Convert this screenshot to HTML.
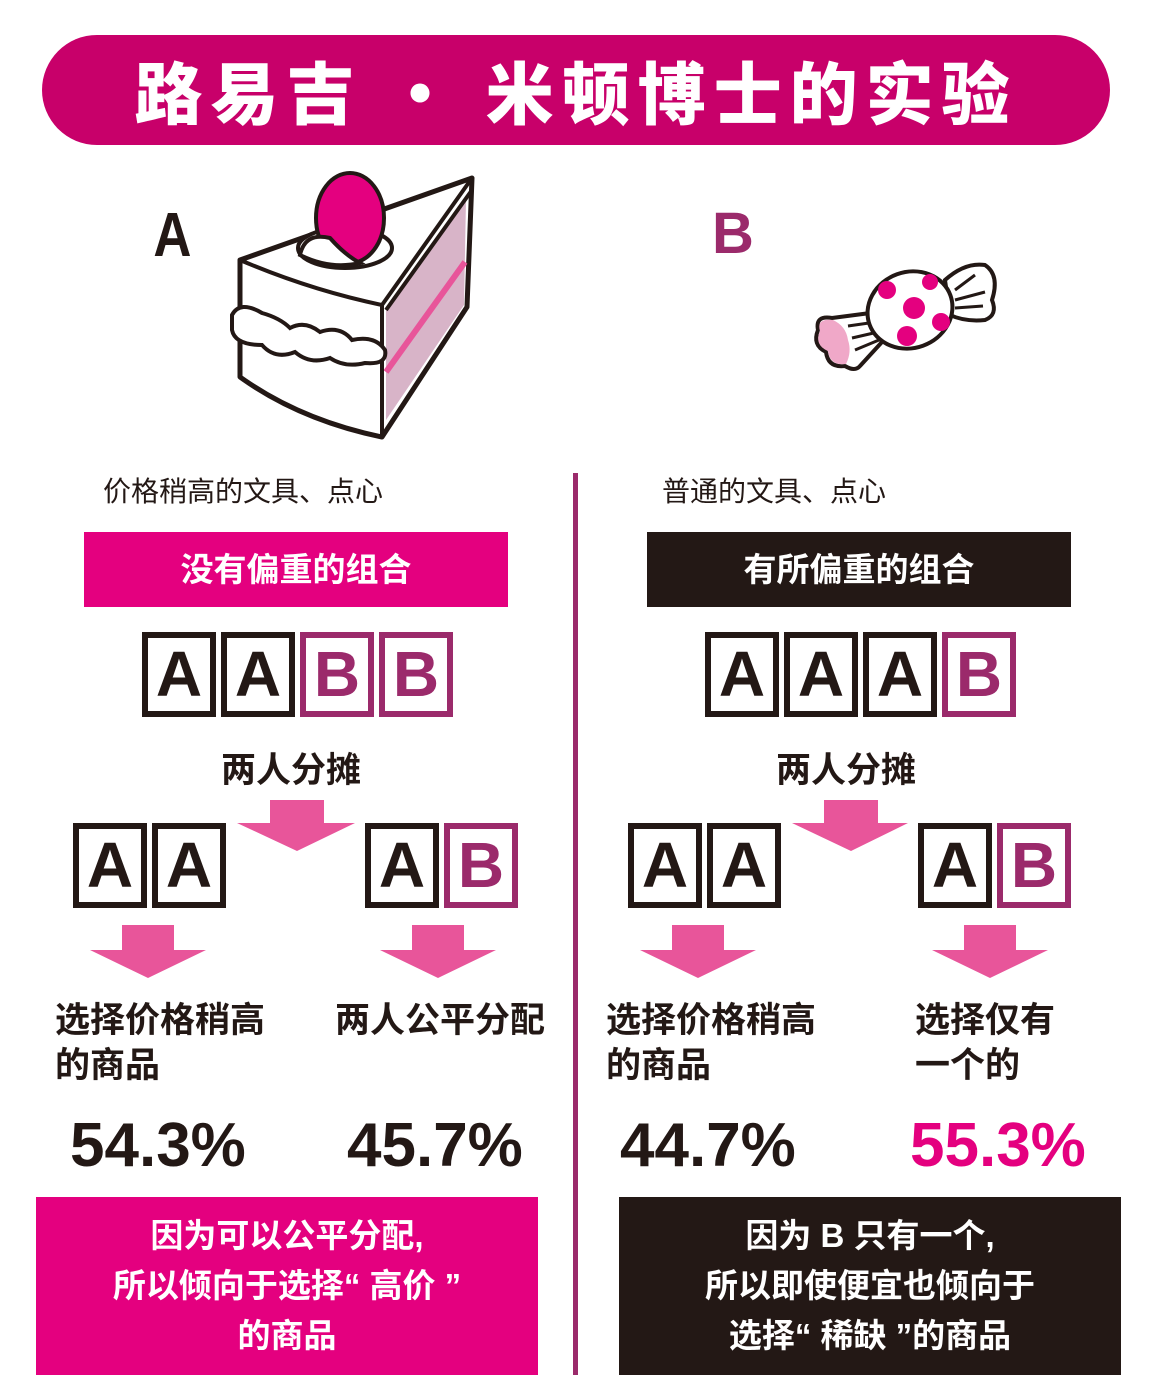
<!DOCTYPE html>
<html><head><meta charset="utf-8"><style>
body{margin:0;width:1159px;height:1392px;background:#fff;position:relative;overflow:hidden;font-family:"Liberation Sans","Noto Sans CJK SC",sans-serif;}
.a{position:absolute;}
.box{position:absolute;width:62px;height:73px;border:6px solid #231815;text-align:center;font:bold 64px/73px "Liberation Sans",sans-serif;color:#231815;}
.box.b{border-color:#9b2a6b;color:#9b2a6b;}
.t{position:absolute;font-family:"Liberation Sans","Noto Sans CJK SC",sans-serif;color:#231815;}
.pct{position:absolute;font:bold 62px/1 "Liberation Sans",sans-serif;color:#231815;}
</style></head><body>
<div class="a" style="left:42px;top:35px;width:1068px;height:110px;border-radius:55px;background:#c8006a;color:#fff;text-align:center;font:900 68px/110px 'Noto Sans CJK SC',sans-serif;letter-spacing:8px;">路易吉 · 米顿博士的实验</div>

<div class="t" style="left:150px;top:205px;font:bold 62px/1 'Liberation Sans',sans-serif;transform:scaleX(0.85);">A</div>
<div class="t" style="left:712px;top:205px;font:bold 58px/1 'Liberation Sans',sans-serif;color:#9b2a6b;">B</div>

<svg class="a" style="left:0;top:0" width="1159" height="460">
<path d="M240,260 L472,178 L467,307 L382,437 Q300,420 240,377 Z" fill="#fff" stroke="#231815" stroke-width="5" stroke-linejoin="round"/>
<polygon points="386,310 466,200 464,305 386,420" fill="#d8b4c8"/>
<line x1="386" y1="372" x2="465" y2="262" stroke="#e8559a" stroke-width="6"/>
<line x1="386" y1="310" x2="472" y2="190" stroke="#231815" stroke-width="4"/>
<path d="M240,260 Q310,290 382,305 L382,437" fill="none" stroke="#231815" stroke-width="4"/>
<line x1="382" y1="305" x2="472" y2="178" stroke="#231815" stroke-width="4"/>
<ellipse cx="345" cy="248" rx="47" ry="20" fill="#fff" stroke="#231815" stroke-width="4"/>
<ellipse cx="350" cy="218" rx="34" ry="45" fill="#e4007f" stroke="#231815" stroke-width="4"/>
<path d="M300,255 Q305,232 330,238 Q345,255 360,263 Q330,270 300,255Z" fill="#fff" stroke="#231815" stroke-width="4"/>
<path d="M232,315 Q240,300 262,313 Q280,318 290,328 Q305,320 320,332 Q340,325 352,340 Q375,335 385,350 Q388,365 365,363 Q345,368 330,358 Q310,365 295,352 Q275,360 262,345 Q235,345 232,330Z" fill="#fff" stroke="#231815" stroke-width="4"/>
</svg>

<svg class="a" style="left:0;top:0" width="1159" height="460">
<path d="M945,280 Q965,262 985,265 Q1000,275 992,300 Q998,315 985,320 Q965,322 950,315Z" fill="#fff" stroke="#231815" stroke-width="4"/>
<path d="M955,290 L975,275 M955,300 L985,292 M955,308 L983,306" stroke="#231815" stroke-width="3"/>
<path d="M878,312 L832,318 Q815,315 818,330 Q812,345 826,352 Q828,368 845,366 Q855,372 860,366 L882,342Z" fill="#fff" stroke="#231815" stroke-width="4" stroke-linejoin="round"/>
<path d="M833,320 Q816,318 820,331 Q814,345 828,351 Q830,366 846,364 Q852,352 848,340 Q846,326 833,320Z" fill="#f0a8c8"/>
<path d="M848,326 L876,322 M852,338 L878,332 M855,350 L879,340" stroke="#231815" stroke-width="3"/>
<ellipse cx="910" cy="310" rx="43" ry="38" transform="rotate(-20 910 310)" fill="#fff" stroke="#231815" stroke-width="4"/>
<circle cx="914" cy="308" r="11" fill="#e4007f"/><circle cx="887" cy="290" r="9" fill="#e4007f"/>
<circle cx="930" cy="282" r="8" fill="#e4007f"/><circle cx="941" cy="322" r="9" fill="#e4007f"/>
<circle cx="907" cy="336" r="10" fill="#e4007f"/>
</svg>

<div class="a" style="left:573px;top:473px;width:5px;height:902px;background:#9b2a6b;"></div>

<div class="t" style="left:103px;top:470px;font-size:28px;">价格稍高的文具、点心</div>
<div class="t" style="left:662px;top:470px;font-size:28px;">普通的文具、点心</div>

<div class="a" style="left:84px;top:532px;width:424px;height:75px;background:#e4007f;color:#fff;text-align:center;font-size:33px;font-weight:bold;line-height:75px;">没有偏重的组合</div>
<div class="a" style="left:647px;top:532px;width:424px;height:75px;background:#231815;color:#fff;text-align:center;font-size:33px;font-weight:bold;line-height:75px;">有所偏重的组合</div>

<div class="box" style="left:142px;top:632px">A</div>
<div class="box" style="left:221px;top:632px">A</div>
<div class="box b" style="left:300px;top:632px">B</div>
<div class="box b" style="left:379px;top:632px">B</div>

<div class="box" style="left:705px;top:632px">A</div>
<div class="box" style="left:784px;top:632px">A</div>
<div class="box" style="left:863px;top:632px">A</div>
<div class="box b" style="left:942px;top:632px">B</div>

<div class="t" style="left:221px;top:742px;font-size:35px;font-weight:bold;">两人分摊</div>
<div class="t" style="left:776px;top:742px;font-size:35px;font-weight:bold;">两人分摊</div>

<svg class="a" style="left:0;top:0" width="1159" height="1000">
<g fill="#e8559a">
<polygon points="270,800 324,800 324,823 355,823 297,851 237,823 270,823"/>
<polygon points="824,800 878,800 878,823 908,823 851,851 792,823 824,823"/>
<polygon points="122,925 174,925 174,950 206,950 148,978 90,950 122,950"/>
<polygon points="412,925 464,925 464,950 496,950 438,978 380,950 412,950"/>
<polygon points="672,925 724,925 724,950 756,950 698,978 640,950 672,950"/>
<polygon points="964,925 1016,925 1016,950 1048,950 990,978 932,950 964,950"/>
</g></svg>

<div class="box" style="left:73px;top:823px">A</div>
<div class="box" style="left:152px;top:823px">A</div>
<div class="box" style="left:365px;top:823px">A</div>
<div class="box b" style="left:444px;top:823px">B</div>
<div class="box" style="left:628px;top:823px">A</div>
<div class="box" style="left:707px;top:823px">A</div>
<div class="box" style="left:918px;top:823px">A</div>
<div class="box b" style="left:997px;top:823px">B</div>

<div class="t" style="left:55px;top:998px;font-size:35px;line-height:45px;font-weight:bold;">选择价格稍高<br>的商品</div>
<div class="t" style="left:335px;top:998px;font-size:35px;line-height:45px;font-weight:bold;">两人公平分配</div>
<div class="t" style="left:606px;top:998px;font-size:35px;line-height:45px;font-weight:bold;">选择价格稍高<br>的商品</div>
<div class="t" style="left:915px;top:998px;font-size:35px;line-height:45px;font-weight:bold;">选择仅有<br>一个的</div>

<div class="pct" style="left:70px;top:1115px;">54.3%</div>
<div class="pct" style="left:347px;top:1115px;">45.7%</div>
<div class="pct" style="left:620px;top:1115px;">44.7%</div>
<div class="pct" style="left:910px;top:1115px;color:#e4007f;">55.3%</div>

<div class="a" style="left:36px;top:1197px;width:502px;height:178px;background:#e4007f;color:#fff;text-align:center;font-size:33px;font-weight:bold;line-height:50px;padding-top:14px;box-sizing:border-box;">因为可以公平分配,<br>所以倾向于选择“ 高价 ”<br>的商品</div>
<div class="a" style="left:619px;top:1197px;width:502px;height:178px;background:#231815;color:#fff;text-align:center;font-size:33px;font-weight:bold;line-height:50px;padding-top:14px;box-sizing:border-box;">因为 B 只有一个,<br>所以即使便宜也倾向于<br>选择“ 稀缺 ”的商品</div>
</body></html>
